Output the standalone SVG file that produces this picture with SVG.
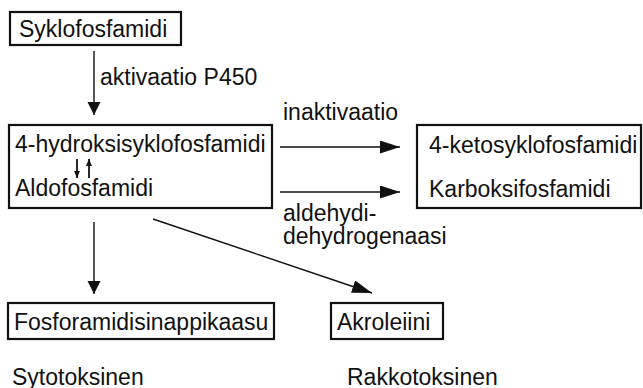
<svg xmlns="http://www.w3.org/2000/svg" width="643" height="388" viewBox="0 0 643 388">
<style>
text{font-family:"Liberation Sans",Arial,sans-serif;font-size:23px;fill:#111}
.box{fill:#fff;stroke:#111;stroke-width:2.2}
.c{stroke:#111;stroke-width:1.4;fill:none}
.s{stroke:#111;stroke-width:1.8;fill:none}
</style>
<defs>
<marker id="av" markerUnits="userSpaceOnUse" markerWidth="14" markerHeight="14" refX="13" refY="6.5" orient="auto"><path d="M0,0L13,6.5L0,13Z" fill="#111"/></marker>
<marker id="ah" markerUnits="userSpaceOnUse" markerWidth="21" markerHeight="14" refX="20" refY="6.5" orient="auto"><path d="M0,0L20,6.5L0,13Z" fill="#111"/></marker>
<marker id="as" markerUnits="userSpaceOnUse" markerWidth="8" markerHeight="7" refX="7" refY="3" orient="auto"><path d="M0,0L7,3L0,6Z" fill="#111"/></marker>
</defs>
<rect width="643" height="388" fill="#fff"/>
<g id="connectors">
<line class="c" x1="94" y1="51" x2="94" y2="115" marker-end="url(#av)"/>
<line class="c" x1="280" y1="147" x2="400" y2="147" marker-end="url(#ah)"/>
<line class="c" x1="280" y1="192" x2="400" y2="192" marker-end="url(#ah)"/>
<line class="c" x1="94" y1="222" x2="94" y2="294" marker-end="url(#av)"/>
<line class="c" x1="153" y1="219" x2="372" y2="293" marker-end="url(#ah)"/>
<text x="100" y="85">aktivaatio P450</text>
<text x="283" y="120">inaktivaatio</text>
<text x="283" y="221">aldehydi-</text>
<text x="283" y="244">dehydrogenaasi</text>
</g>
<g id="n1">
<rect class="box" x="10" y="12" width="171" height="33"/>
<text x="19" y="37">Syklofosfamidi</text>
</g>
<g id="n2">
<rect class="box" x="9" y="125" width="263" height="83"/>
<text x="15" y="152">4-hydroksisyklofosfamidi</text>
<line class="s" x1="77" y1="159" x2="77" y2="178" marker-end="url(#as)"/>
<line class="s" x1="89" y1="178" x2="89" y2="159" marker-end="url(#as)"/>
<text x="15" y="196">Aldofosfamidi</text>
</g>
<g id="n3">
<rect class="box" x="417" y="125" width="224" height="83"/>
<text x="429" y="153">4-ketosyklofosfamidi</text>
<text x="429" y="197">Karboksifosfamidi</text>
</g>
<g id="n4">
<rect class="box" x="8" y="303" width="266" height="36"/>
<text x="14" y="330">Fosforamidisinappikaasu</text>
</g>
<g id="n5">
<rect class="box" x="331" y="303" width="112" height="36"/>
<text x="337" y="330">Akroleiini</text>
</g>
<text x="12" y="385">Sytotoksinen</text>
<text x="347" y="385">Rakkotoksinen</text>
</svg>
